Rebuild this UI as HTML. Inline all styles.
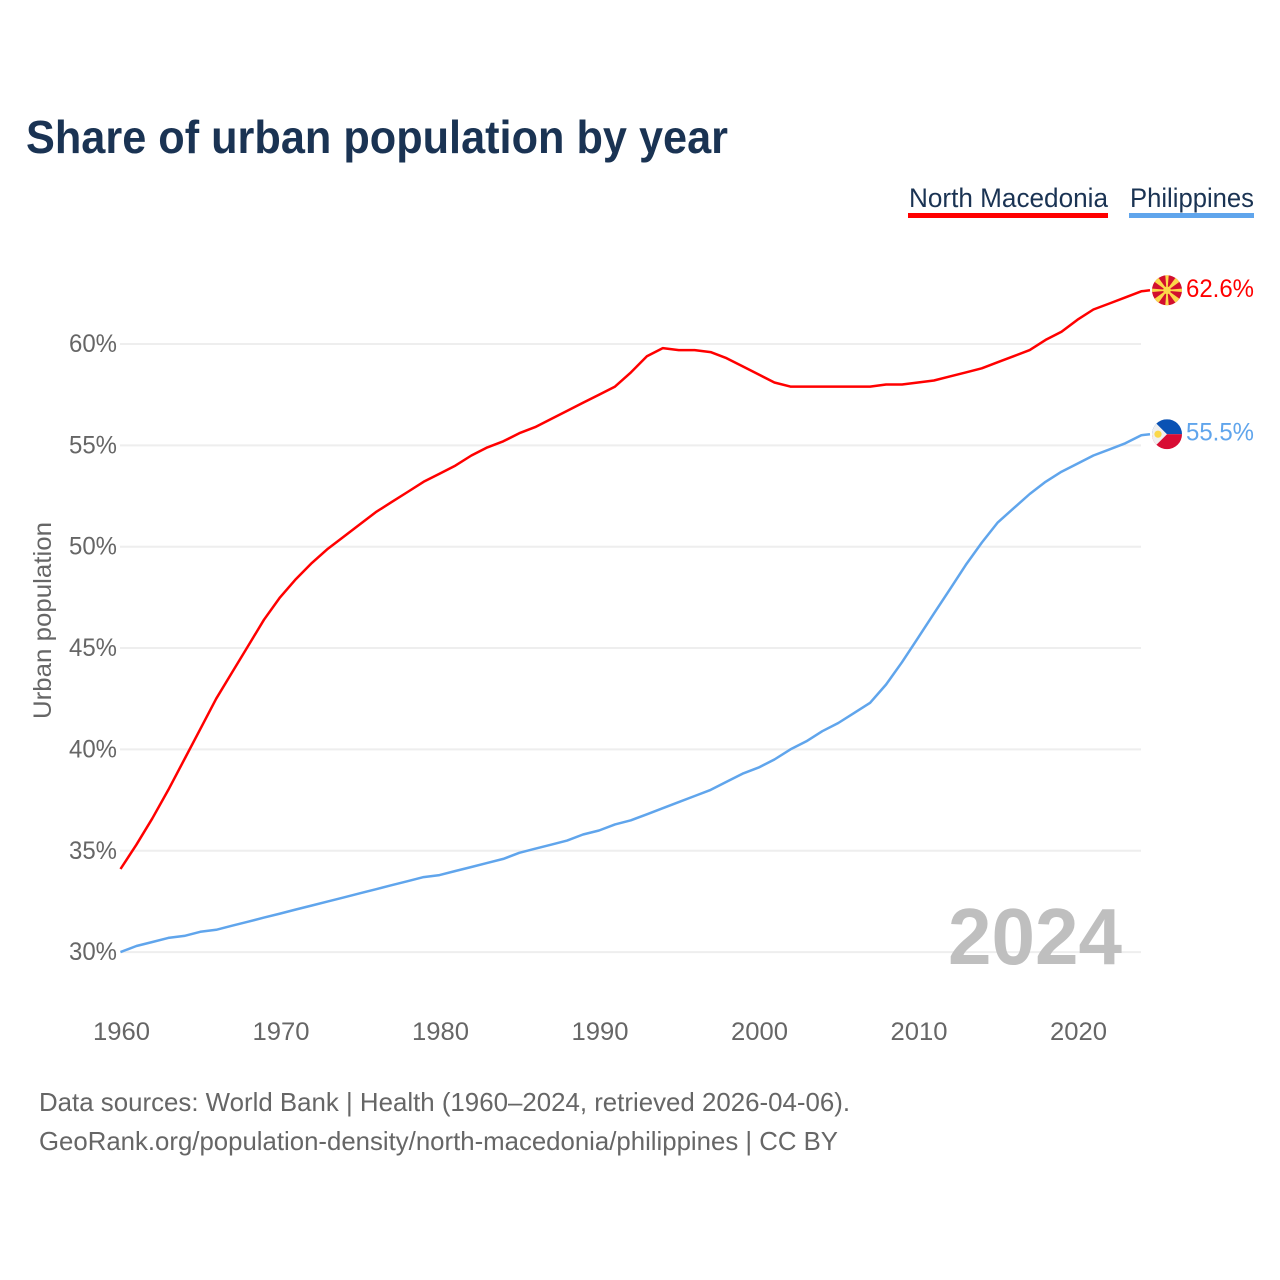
<!DOCTYPE html>
<html>
<head>
<meta charset="utf-8">
<title>Share of urban population by year</title>
<style>
html,body{margin:0;padding:0;background:#fff;}
svg{display:block;font-family:"Liberation Sans",sans-serif;}
</style>
</head>
<body>
<svg id="chart" xmlns="http://www.w3.org/2000/svg" width="1280" height="1280" viewBox="0 0 1280 1280">
  <defs>
    <clipPath id="flag-clip-mk"><circle cx="0" cy="0" r="15"></circle></clipPath>
    <clipPath id="flag-clip-ph"><circle cx="0" cy="0" r="15"></circle></clipPath>
  </defs>
  <text x="26" y="153" font-size="46" font-weight="700" fill="#1a3353" textLength="702" lengthAdjust="spacingAndGlyphs">Share of urban population by year</text>

  <text x="909" y="207" font-size="27" fill="#1a3353" textLength="199" lengthAdjust="spacingAndGlyphs">North Macedonia</text>
  <rect x="908" y="213" width="200" height="5" fill="#ff0000"></rect>
  <text x="1130" y="207" font-size="27" fill="#1a3353" textLength="124" lengthAdjust="spacingAndGlyphs">Philippines</text>
  <rect x="1129" y="213" width="125" height="5" fill="#60a5ec"></rect>

  <g id="grid"></g>
  <g id="y-labels"></g>
  <g id="x-labels"></g>
  <text transform="translate(51,620.5) rotate(-90)" text-anchor="middle" font-size="25" fill="#666666" textLength="197" lengthAdjust="spacingAndGlyphs">Urban population</text>

  <text x="948" y="964" font-size="80" font-weight="700" fill="#bfbfbf" textLength="174" lengthAdjust="spacingAndGlyphs">2024</text>

  <g id="series"></g>
  <g id="end-markers"></g>

  <text x="39" y="1111" font-size="26" fill="#666666" textLength="811" lengthAdjust="spacingAndGlyphs">Data sources: World Bank | Health (1960–2024, retrieved 2026-04-06).</text>
  <text x="39" y="1150" font-size="26" fill="#666666" textLength="799" lengthAdjust="spacingAndGlyphs">GeoRank.org/population-density/north-macedonia/philippines | CC BY</text>
</svg>
<script>
const startYear = 1960;
const yTicks = [30, 35, 40, 45, 50, 55, 60];
const xTicks = [1960, 1970, 1980, 1990, 2000, 2010, 2020];
const northMacedonia = [
  34.1, 35.3, 36.6, 38.0, 39.5, 41.0, 42.5, 43.8, 45.1, 46.4,
  47.5, 48.4, 49.2, 49.9, 50.5, 51.1, 51.7, 52.2, 52.7, 53.2,
  53.6, 54.0, 54.5, 54.9, 55.2, 55.6, 55.9, 56.3, 56.7, 57.1,
  57.5, 57.9, 58.6, 59.4, 59.8, 59.7, 59.7, 59.6, 59.3, 58.9,
  58.5, 58.1, 57.9, 57.9, 57.9, 57.9, 57.9, 57.9, 58.0, 58.0,
  58.1, 58.2, 58.4, 58.6, 58.8, 59.1, 59.4, 59.7, 60.2, 60.6,
  61.2, 61.7, 62.0, 62.3, 62.6
];
const philippines = [
  30.0, 30.3, 30.5, 30.7, 30.8, 31.0, 31.1, 31.3, 31.5, 31.7,
  31.9, 32.1, 32.3, 32.5, 32.7, 32.9, 33.1, 33.3, 33.5, 33.7,
  33.8, 34.0, 34.2, 34.4, 34.6, 34.9, 35.1, 35.3, 35.5, 35.8,
  36.0, 36.3, 36.5, 36.8, 37.1, 37.4, 37.7, 38.0, 38.4, 38.8,
  39.1, 39.5, 40.0, 40.4, 40.9, 41.3, 41.8, 42.3, 43.2, 44.3,
  45.5, 46.7, 47.9, 49.1, 50.2, 51.2, 51.9, 52.6, 53.2, 53.7,
  54.1, 54.5, 54.8, 55.1, 55.5
];

const NS = 'http://www.w3.org/2000/svg';
function xScale(year) { return 120.5 + (year - 1960) * 15.95; }
function yScale(v) { return 344 + (60 - v) * 20.27; }
function make(tag, attrs, parent) {
  const el = document.createElementNS(NS, tag);
  for (const k in attrs) el.setAttribute(k, attrs[k]);
  if (parent) parent.appendChild(el);
  return el;
}

const grid = document.getElementById('grid');
const yLabels = document.getElementById('y-labels');
const xLabels = document.getElementById('x-labels');
const seriesGroup = document.getElementById('series');
const markers = document.getElementById('end-markers');

yTicks.forEach(function (t) {
  const y = yScale(t);
  const line = make('line', { x1: 120, x2: 1141, y1: y, y2: y, stroke: '#eeeeee', 'stroke-width': 2 }, grid);
  
  
  const label = make('text', { x: 117, y: y + 8, 'text-anchor': 'end', 'font-size': 25, fill: '#666666', textLength: 48, lengthAdjust: 'spacingAndGlyphs' }, yLabels);
  label.textContent = t + '%';
  
  
});

xTicks.forEach(function (t) {
  const label = make('text', { x: xScale(t) + 1, y: 1040, 'text-anchor': 'middle', 'font-size': 25, fill: '#666666', textLength: 57, lengthAdjust: 'spacingAndGlyphs' }, xLabels);
  label.textContent = t;
  
  
});

function drawSeries(values, color, key) {
  const pts = values.map(function (v, i) { return xScale(startYear + i).toFixed(1) + ',' + yScale(v).toFixed(1); });
  const lastY = yScale(values[values.length - 1]) - 1;
  pts.push('1150,' + lastY.toFixed(1));
  const line = make('polyline', { points: pts.join(' '), fill: 'none', stroke: color, 'stroke-width': 2.5, 'stroke-linejoin': 'round' }, seriesGroup);
  
  
  const label = make('text', { x: 1186, y: lastY + 6.5, 'font-size': 25, fill: color, textLength: 68, lengthAdjust: 'spacingAndGlyphs' }, markers);
  label.textContent = values[values.length - 1].toFixed(1) + '%';
  
  
  const flag = make('g', { transform: 'translate(1167,' + lastY.toFixed(1) + ')', 'clip-path': 'url(#flag-clip-' + (key === 'north-macedonia' ? 'mk' : 'ph') + ')' }, markers);
  
  
  return flag;
}

const flagMk = drawSeries(northMacedonia, '#ff0000', 'north-macedonia');
make('rect', { x: -15, y: -15, width: 30, height: 30, fill: '#d20f2e' }, flagMk);
[0, 45, 90, 135, 180, 225, 270, 315].forEach(function (a) {
  const wide = a % 90 === 0 ? 1.8 : 3;
  make('polygon', { points: '-0.5,0 0.5,0 ' + wide + ',-16 ' + (-wide) + ',-16', fill: '#fbd84a', transform: 'rotate(' + a + ')' }, flagMk);
});
make('circle', { cx: 0, cy: 0, r: 3.8, fill: '#fbd84a' }, flagMk);

const flagPh = drawSeries(philippines, '#60a5ec', 'philippines');
make('rect', { x: -15, y: -15, width: 30, height: 15, fill: '#0a52b4' }, flagPh);
make('rect', { x: -15, y: 0, width: 30, height: 15, fill: '#d80c33' }, flagPh);
make('polygon', { points: '0,0 -15,-15 -15,15', fill: '#f0f0f0' }, flagPh);
make('circle', { cx: -9, cy: 0, r: 3.6, fill: '#fbd84a' }, flagPh);
</script>
</body>
</html>
